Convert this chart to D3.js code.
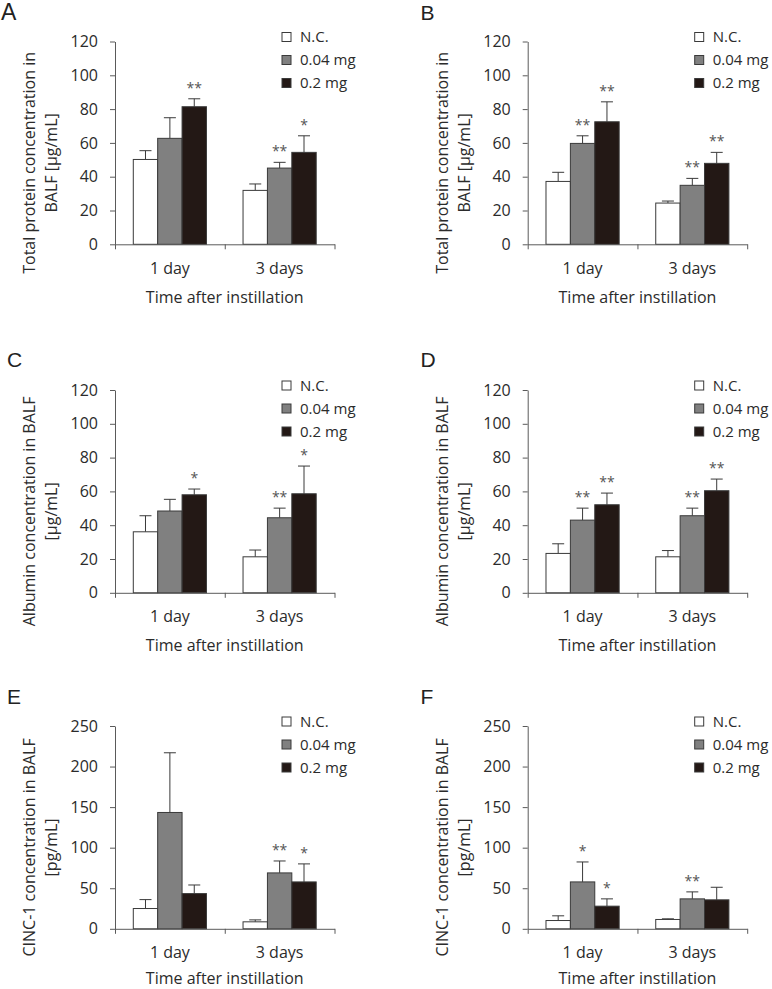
<!DOCTYPE html>
<html>
<head>
<meta charset="utf-8">
<script src="https://cdn.jsdelivr.net/npm/d3@7"></script>
<style>
  html, body { margin: 0; padding: 0; background: #fff; }
  svg { display: block; }
  text { font-family: "Open Sans", "Noto Sans", sans-serif; fill: #2b2b2b; }
</style>
</head>
<body>
<svg id="chart" width="772" height="989"></svg>
<script>
// ---------------- data ----------------
const groups = ["1 day", "3 days"];
const series = ["N.C.", "0.04 mg", "0.2 mg"];
const panelLetters = ["A", "B", "C", "D", "E", "F"];
const xTitle = "Time after instillation";
const yTitles = [
  ["Total protein concentration in", "BALF [μg/mL]"],
  ["Total protein concentration in", "BALF [μg/mL]"],
  ["Albumin concentration in BALF", "[μg/mL]"],
  ["Albumin concentration in BALF", "[μg/mL]"],
  ["CINC-1 concentration in BALF", "[pg/mL]"],
  ["CINC-1 concentration in BALF", "[pg/mL]"]
];
const yMax = [120, 120, 120, 120, 250, 250];
const yTicksA = [0, 20, 40, 60, 80, 100, 120];
const yTicksE = [0, 50, 100, 150, 200, 250];

// means [group][series]
const meanA = [[50.2, 62.7, 81.4], [31.9, 45.1, 54.4]];
const meanB = [[37.2, 59.7, 72.5], [24.4, 34.9, 47.9]];
const meanC = [[36.1, 48.4, 58.0], [21.3, 44.4, 58.6]];
const meanD = [[23.3, 43.0, 52.1], [21.3, 45.6, 60.4]];
const meanE = [[25.0, 143.4, 43.4], [8.6, 68.9, 57.8]];
const meanF = [[10.2, 57.8, 27.9], [11.5, 36.9, 35.7]];
// error bars (upper) [group][series]
const errA = [[5.2, 12.2, 4.7], [3.8, 3.4, 9.8]];
const errB = [[5.4, 4.5, 11.8], [1.2, 4.1, 6.5]];
const errC = [[9.5, 6.9, 3.4], [4.0, 5.7, 16.4]];
const errD = [[5.7, 7.1, 6.9], [3.7, 4.5, 6.9]];
const errE = [[11.0, 73.6, 10.6], [2.4, 14.7, 22.2]];
const errF = [[5.8, 24.6, 9.0], [0.8, 8.6, 15.5]];
// significance marks
const sigA = [["", "", "**"], ["", "**", "*"]];
const sigB = [["", "**", "**"], ["", "**", "**"]];
const sigC = [["", "", "*"], ["", "**", "*"]];
const sigD = [["", "**", "**"], ["", "**", "**"]];
const sigE = [["", "", ""], ["", "**", "*"]];
const sigF = [["", "*", "*"], ["", "**", ""]];

const means = [meanA, meanB, meanC, meanD, meanE, meanF];
const errs = [errA, errB, errC, errD, errE, errF];
const sigs = [sigA, sigB, sigC, sigD, sigE, sigF];
const yTicks = [yTicksA, yTicksA, yTicksA, yTicksA, yTicksE, yTicksE];

// ---------------- layout / style ----------------
const colX = [115, 527.7];
const rowY = [41.5, 390, 726];
const xTitleOffset = [59, 58, 55];
const W = 219.5, H = 202.8;
const fills = ["#ffffff", "#808080", "#231815"];
const axisColor = "#5a5a5a";
const barStroke = "#3a3a3a";

const svg = d3.select("#chart");

panelLetters.forEach((letter, i) => {
  const col = i % 2, row = Math.floor(i / 2);
  const ox = colX[col], oy = rowY[row];
  const g = svg.append("g").attr("transform", `translate(${ox},${oy})`);

  const y = d3.scaleLinear().domain([0, yMax[i]]).range([H, 0]);
  const x0 = d3.scaleBand().domain(groups).range([0, W]).paddingInner(0).paddingOuter(0);
  const x1 = d3.scaleBand().domain(series).range([0, x0.bandwidth()]).paddingInner(0).paddingOuter(0.75);

  // panel letter
  svg.append("text")
    .attr("x", col === 0 ? (row === 0 ? 1 : 7) : 420.5)
    .attr("y", row === 0 ? 19.5 : (row === 1 ? 366.5 : 703.5))
    .style("font-family", "'Liberation Sans', Arial, sans-serif")
    .style("font-size", row === 0 && col === 0 ? "23px" : "21px")
    .style("fill", "#222")
    .text(letter);

  const data = [];
  groups.forEach((grp, gi) => series.forEach((s, si) => {
    data.push({grp, s, si, v: means[i][gi][si], e: errs[i][gi][si], sig: sigs[i][gi][si]});
  }));

  // error bars
  const eb = g.append("g").attr("stroke", "#3a3a3a").attr("stroke-width", 1);
  data.forEach(d => {
    const cx = x0(d.grp) + x1(d.s) + x1.bandwidth() / 2;
    eb.append("line").attr("x1", cx).attr("x2", cx).attr("y1", y(d.v)).attr("y2", y(d.v + d.e));
    eb.append("line").attr("x1", cx - 6).attr("x2", cx + 6).attr("y1", y(d.v + d.e)).attr("y2", y(d.v + d.e));
  });

  // bars
  g.append("g").selectAll("rect").data(data).join("rect")
    .attr("x", d => x0(d.grp) + x1(d.s))
    .attr("y", d => y(d.v))
    .attr("width", x1.bandwidth())
    .attr("height", d => H - y(d.v))
    .attr("fill", d => fills[d.si])
    .attr("stroke", barStroke)
    .attr("stroke-width", 1);

  // significance stars
  g.append("g").selectAll("text").data(data.filter(d => d.sig)).join("text")
    .attr("x", d => x0(d.grp) + x1(d.s) + x1.bandwidth() / 2)
    .attr("y", d => y(d.v + d.e) - 6)
    .attr("text-anchor", "middle")
    .style("font-size", "14px")
    .style("fill", "#555")
    .text(d => d.sig);

  // y axis
  const ya = g.append("g").call(
    d3.axisLeft(y).tickValues(yTicks[i]).tickSize(5).tickSizeOuter(0).tickPadding(12)
  );
  ya.select(".domain").attr("stroke", axisColor);
  ya.selectAll(".tick line").attr("stroke", axisColor);
  ya.selectAll(".tick text").style("font-size", "16px").style("fill", "#2b2b2b")
    .style("font-family", "'Open Sans', sans-serif");

  // x axis boundary ticks
  const xb = d3.scaleLinear().domain([0, groups.length]).range([0, W]);
  const xa = g.append("g").attr("transform", `translate(0,${H})`).call(
    d3.axisBottom(xb).tickValues(d3.range(groups.length + 1)).tickFormat("").tickSize(5).tickSizeOuter(0)
  );
  xa.select(".domain").attr("stroke", axisColor);
  xa.selectAll(".tick line").attr("stroke", axisColor);

  // x axis category labels
  const xl = g.append("g").attr("transform", `translate(0,${H})`).call(
    d3.axisBottom(x0).tickSize(0).tickPadding(18)
  );
  xl.select(".domain").remove();
  xl.selectAll(".tick text").style("font-size", "16px").style("fill", "#2b2b2b")
    .style("font-family", "'Open Sans', sans-serif");

  // x title
  g.append("text")
    .attr("x", W / 2).attr("y", H + xTitleOffset[row])
    .attr("text-anchor", "middle")
    .style("font-size", "16px")
    .text(xTitle);

  // y title
  const yc = H / 2 + 20;
  yTitles[i].forEach((line, li) => {
    g.append("text")
      .attr("transform", `translate(${li === 0 ? -80 : -58},${yc}) rotate(-90)`)
      .attr("text-anchor", "middle")
      .style("font-size", "16px")
      .text(line);
  });

  // legend
  const lg = g.append("g").attr("transform", `translate(167,-4.5)`);
  series.forEach((s, si) => {
    lg.append("rect")
      .attr("x", 0).attr("y", si * 23 - 4.5)
      .attr("width", 9).attr("height", 9)
      .attr("fill", fills[si]).attr("stroke", barStroke).attr("stroke-width", 1);
    lg.append("text")
      .attr("x", 18).attr("y", si * 23)
      .attr("dy", "0.36em")
      .style("font-size", "15px")
      .text(s);
  });
});
</script>
</body>
</html>
